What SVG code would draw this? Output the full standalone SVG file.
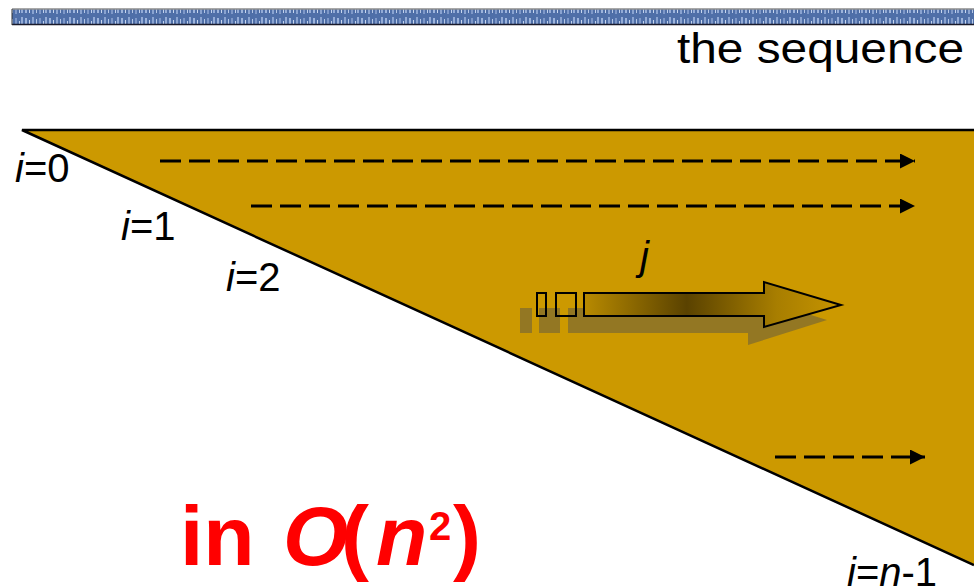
<svg xmlns="http://www.w3.org/2000/svg" width="974" height="587" viewBox="0 0 974 587">
  <style>
    .lbl { font-family: "Liberation Sans", Arial, sans-serif; font-size: 40px; fill: #000; }
    .it { font-style: italic; }
    .dash { stroke: #000; stroke-width: 3; stroke-dasharray: 21 8; fill: none; }
    .big { font-family: "Liberation Sans", Arial, sans-serif; font-weight: bold; fill: #FF0000; }
    .shadow { fill: #4d4d4d; opacity: 0.45; }
  </style>
  <defs>
    <marker id="ah" viewBox="0 0 10 10" refX="10" refY="5" markerUnits="userSpaceOnUse" markerWidth="15" markerHeight="15" orient="auto">
      <path d="M0,0 L10,5 L0,10 Z" fill="#000"/>
    </marker>
    <linearGradient id="grad" x1="584" y1="0" x2="841" y2="0" gradientUnits="userSpaceOnUse">
      <stop offset="0" stop-color="#B88A00"/>
      <stop offset="0.4" stop-color="#5A4200"/>
      <stop offset="0.75" stop-color="#A87E00"/>
      <stop offset="1" stop-color="#C69400"/>
    </linearGradient>
    <pattern id="tex" x="0" y="0" width="24" height="16" patternUnits="userSpaceOnUse">
      <rect width="24" height="16" fill="#4F6FA8"/>
      <rect x="1" y="2" width="2" height="11" fill="#9DB4DC"/>
      <rect x="5" y="4" width="1" height="9" fill="#C8D6EE"/>
      <rect x="8" y="1" width="2" height="13" fill="#8AA3D0"/>
      <rect x="12" y="3" width="1" height="10" fill="#B5C7E6"/>
      <rect x="15" y="2" width="2" height="12" fill="#7E98C8"/>
      <rect x="19" y="5" width="1" height="8" fill="#C1D1EC"/>
      <rect x="21" y="1" width="2" height="12" fill="#93ABD6"/>
    </pattern>
  </defs>

  <rect width="974" height="587" fill="#FFFFFF"/>

  <g id="banner">
    <rect x="12" y="9" width="962" height="15" fill="url(#tex)"/>
    <line x1="12" y1="9" x2="974" y2="9" stroke="#8C8C8C" stroke-width="1.5"/>
    <line x1="12" y1="24.5" x2="974" y2="24.5" stroke="#1A1A2A" stroke-width="1.5"/>
    <line x1="12" y1="9" x2="12" y2="25" stroke="#333" stroke-width="1"/>
  </g>

  <g id="title">
    <text x="677" y="63" class="lbl" style="font-size:42px" textLength="287" lengthAdjust="spacingAndGlyphs">the sequence</text>
  </g>

  <g id="triangle">
    <polygon points="22,130 974,130 974,565" fill="#CC9900"/>
    <polyline points="974,565 22,130 974,130" fill="none" stroke="#000" stroke-width="2.5"/>
  </g>

  <g id="connectors">
    <line class="dash" x1="160" y1="161" x2="915" y2="161" marker-end="url(#ah)"/>
    <line class="dash" x1="251" y1="206" x2="915" y2="206" marker-end="url(#ah)"/>
    <line class="dash" x1="775" y1="457" x2="925" y2="457" marker-end="url(#ah)"/>
  </g>

  <g id="j-arrow">
    <g id="j-shadow">
      <rect class="shadow" x="520" y="308" width="12" height="25"/>
      <rect class="shadow" x="539" y="308" width="21" height="25"/>
      <polygon class="shadow" points="568,308 750,308 750,296 827,320 748,345 748,333 568,333"/>
    </g>
    <rect x="537" y="293" width="9" height="23" fill="none" stroke="#000" stroke-width="2"/>
    <rect x="556" y="293" width="20" height="23" fill="none" stroke="#000" stroke-width="2"/>
    <polygon points="584,293 764,293 764,282 841,305 764,327 764,316 584,316" fill="url(#grad)" stroke="#000" stroke-width="2"/>
    <text x="640" y="270" class="lbl it">j</text>
  </g>

  <g id="labels">
    <text x="15" y="182" class="lbl"><tspan class="it">i</tspan>=0</text>
    <text x="121" y="240" class="lbl"><tspan class="it">i</tspan>=1</text>
    <text x="226" y="291" class="lbl"><tspan class="it">i</tspan>=2</text>
    <text x="847" y="586" class="lbl"><tspan class="it">i</tspan>=<tspan class="it">n</tspan>-1</text>
  </g>

  <g id="complexity">
    <text y="565" class="big" font-size="84"><tspan x="180">in</tspan><tspan x="283" font-style="italic">O</tspan><tspan x="341">(</tspan><tspan x="376" font-style="italic">n</tspan><tspan x="429" y="540" font-size="40">2</tspan><tspan x="453" y="565">)</tspan></text>
  </g>
</svg>
